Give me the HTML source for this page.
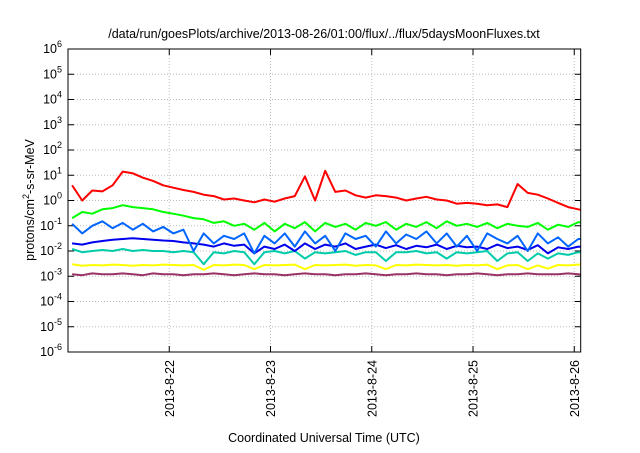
<!DOCTYPE html>
<html><head><meta charset="utf-8"><style>
body{margin:0;background:#fff}
svg{font-family:"Liberation Sans",sans-serif}
</style></head><body>
<svg id="chart" width="640" height="448" viewBox="0 0 640 448">
<text x="324" y="38" text-anchor="middle" font-size="12.5" fill="#000">/data/run/goesPlots/archive/2013-08-26/01:00/flux/../flux/5daysMoonFluxes.txt</text>
<g id="grid"></g>
<g id="axes"></g>
<g id="series" clip-path="url(#clip)"></g>
<defs><clipPath id="clip"><rect x="68" y="49" width="512.7" height="303"/></clipPath></defs>
<rect x="68" y="49" width="512.7" height="303" fill="none" stroke="#000" stroke-width="1"/>
<text transform="translate(34,200) rotate(-90)" text-anchor="middle" font-size="12.5">protons/cm<tspan font-size="9" dy="-5">2</tspan><tspan dy="5">-s-sr-MeV</tspan></text>
<text x="324" y="442" text-anchor="middle" font-size="12.5">Coordinated Universal Time (UTC)</text>
</svg>
<script>
const dayTicks = [22, 23, 24, 25, 26];
const dayLabels = ["2013-8-22","2013-8-23","2013-8-24","2013-8-25","2013-8-26"];
const decades = [-6,-5,-4,-3,-2,-1,0,1,2,3,4,5,6];
const tStart = 21.04, tStep = 0.1;
const red = [4,1.0,2.5,2.3,4,14,12,8,6,4,3.2,2.6,2.2,1.7,1.5,1.1,1.2,1.0,0.85,1.1,0.9,1.2,1.5,9,1.0,15,2.2,2.5,1.6,1.3,1.6,1.5,1.3,1.0,1.2,1.4,1.1,1.0,0.75,0.8,0.75,0.65,0.7,0.55,4.5,2.0,1.7,1.2,0.8,0.55,0.45,0.35];
const green = [0.2,0.35,0.3,0.45,0.5,0.65,0.55,0.5,0.45,0.35,0.3,0.25,0.2,0.18,0.13,0.15,0.1,0.12,0.07,0.13,0.06,0.12,0.08,0.14,0.06,0.13,0.09,0.12,0.07,0.13,0.1,0.14,0.07,0.12,0.09,0.14,0.08,0.15,0.1,0.12,0.09,0.13,0.08,0.12,0.1,0.09,0.13,0.07,0.11,0.09,0.14,0.12];
const lightBlue = [0.12,0.05,0.1,0.15,0.08,0.13,0.07,0.12,0.06,0.09,0.05,0.07,0.01,0.05,0.02,0.04,0.03,0.05,0.008,0.04,0.02,0.05,0.015,0.06,0.02,0.04,0.01,0.05,0.03,0.04,0.015,0.06,0.02,0.045,0.03,0.06,0.02,0.05,0.015,0.04,0.01,0.05,0.03,0.02,0.04,0.01,0.05,0.02,0.035,0.015,0.03,0.03];
const darkBlue = [0.02,0.018,0.022,0.025,0.028,0.03,0.032,0.03,0.028,0.026,0.025,0.022,0.02,0.018,0.015,0.02,0.016,0.018,0.008,0.015,0.012,0.018,0.01,0.02,0.012,0.018,0.015,0.02,0.012,0.015,0.018,0.013,0.017,0.012,0.016,0.014,0.018,0.012,0.016,0.014,0.015,0.012,0.018,0.013,0.015,0.011,0.017,0.008,0.014,0.012,0.015,0.014];
const teal = [0.012,0.009,0.01,0.011,0.01,0.012,0.01,0.011,0.01,0.01,0.009,0.01,0.009,0.003,0.009,0.008,0.01,0.009,0.003,0.009,0.01,0.008,0.01,0.005,0.009,0.008,0.009,0.01,0.007,0.009,0.009,0.004,0.009,0.009,0.01,0.008,0.009,0.005,0.009,0.008,0.009,0.01,0.004,0.008,0.009,0.004,0.008,0.005,0.008,0.007,0.009,0.009];
const yellow = [0.003,0.0026,0.0028,0.0027,0.0029,0.0028,0.0026,0.0028,0.0027,0.0029,0.0028,0.0027,0.0028,0.0018,0.0028,0.0027,0.0029,0.0028,0.0019,0.0028,0.0027,0.0028,0.0029,0.0019,0.0028,0.0027,0.0028,0.0029,0.0026,0.0028,0.0027,0.0019,0.0028,0.0027,0.0029,0.0028,0.0027,0.0028,0.0026,0.0028,0.0027,0.0029,0.0019,0.0027,0.0028,0.0019,0.0027,0.002,0.0028,0.0027,0.0029,0.003];
const purple = [0.0012,0.0011,0.0013,0.0012,0.0012,0.0013,0.0012,0.0011,0.0013,0.0012,0.0012,0.0011,0.0012,0.0012,0.0013,0.0012,0.0011,0.0012,0.0013,0.0012,0.0012,0.0011,0.0012,0.0013,0.0012,0.0012,0.0011,0.0012,0.0012,0.0013,0.0012,0.0011,0.0012,0.0012,0.0013,0.0012,0.0012,0.0011,0.0012,0.0012,0.0013,0.0012,0.0011,0.0012,0.0012,0.0013,0.0012,0.0012,0.0012,0.0013,0.0012,0.0011];

const NS='http://www.w3.org/2000/svg';
const X0=68, X1=580.7, Y0=49, Y1=352;
const d0=21.0, d1=26.0637;
function xs(t){return X0+(t-d0)/(d1-d0)*(X1-X0);}
function ys(v){return Y1-(Math.log10(v)+6)/12*(Y1-Y0);}
function mk(tag,attrs,parent){const e=document.createElementNS(NS,tag);for(const k in attrs)e.setAttribute(k,attrs[k]);parent.appendChild(e);return e;}
const grid=document.getElementById('grid'), axes=document.getElementById('axes'), ser=document.getElementById('series');
decades.forEach(p=>{
  const y=ys(Math.pow(10,p));
  if(p>-6&&p<6){const l=mk('line',{x1:X0,x2:X1,y1:y,y2:y,stroke:'#bbb','stroke-dasharray':'1,2'},grid);
    }
  const t1=mk('line',{x1:X0,x2:X0+6,y1:y,y2:y,stroke:'#000'},axes);
  
  const t2=mk('line',{x1:X1-6,x2:X1,y1:y,y2:y,stroke:'#000'},axes);
  
  const tx=mk('text',{x:62,y:y+4,'text-anchor':'end','font-size':'12.5'},axes);
  
  tx.appendChild(document.createTextNode('10'));
  const s=mk('tspan',{dy:-6,'font-size':'9'},tx);s.textContent=String(p);
});
dayTicks.forEach((d,i)=>{
  const x=xs(d);
  const l=mk('line',{x1:x,x2:x,y1:Y0,y2:Y1,stroke:'#bbb','stroke-dasharray':'1,2'},grid);
  
  const a=mk('line',{x1:x,x2:x,y1:Y1-6,y2:Y1,stroke:'#000'},axes);
  
  const b=mk('line',{x1:x,x2:x,y1:Y0,y2:Y0+6,stroke:'#000'},axes);
  
  const tx=mk('text',{transform:`translate(${x+4.5},360) rotate(-90)`,'text-anchor':'end','font-size':'12.5'},axes);
  
  tx.textContent=dayLabels[i];
});
const seriesList=[[purple,'#993366','purple-series'],[yellow,'#ffff00','yellow-series'],[teal,'#00ccaa','teal-series'],[darkBlue,'#0000ee','dark-blue-series'],[lightBlue,'#0066ff','light-blue-series'],[green,'#00ff00','green-series'],[red,'#ff0000','red-series']];
seriesList.forEach(([arr,col,name])=>{
  const d=arr.map((v,i)=>(i?'L':'M')+xs(tStart+i*tStep).toFixed(1)+','+ys(v).toFixed(1)).join('');
  const p=mk('path',{d:d,fill:'none',stroke:col,'stroke-width':2,'stroke-linejoin':'round'},ser);
  
});
</script>
</body></html>
